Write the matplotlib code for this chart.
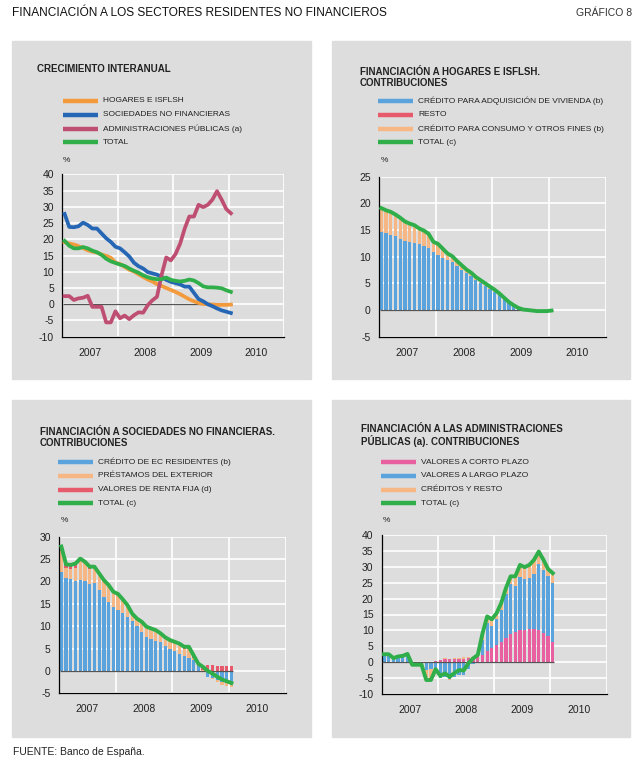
import numpy as np
import matplotlib
matplotlib.use('Agg')
import matplotlib.pyplot as plt
from matplotlib.lines import Line2D
from matplotlib.patches import Rectangle

plt.rcParams['axes.unicode_minus'] = False

W, H = 640, 761

# monthly data, Dec 2006 .. Dec 2009
n_months = 37
years = ['2007', '2008', '2009', '2010']

# growth rates (%), also the totals of the contribution panels
hogares_total = [19.1, 18.7, 18.4, 17.9, 17.3, 16.6, 16.2, 15.9, 15.3, 14.9, 14.3, 12.8,
                 12.4, 11.5, 10.6, 10.1, 9.2, 8.4, 7.6, 7.0, 6.2, 5.6, 5.0, 4.4,
                 3.8, 3.1, 2.3, 1.5, 0.9, 0.4, 0.1, 0.0, -0.1, -0.2, -0.2, -0.2, -0.1]
snf_total = [27.8, 23.8, 23.7, 24.0, 25.1, 24.4, 23.3, 23.3, 21.8, 20.3, 19.2, 17.7,
             17.2, 16.0, 14.7, 12.8, 11.7, 11.0, 9.9, 9.5, 9.1, 8.4, 7.5, 6.9,
             6.5, 6.1, 5.4, 5.4, 3.5, 1.6, 0.9, 0.0, -0.6, -1.3, -1.9, -2.3, -2.7]
aapp_total = [2.5, 2.5, 1.3, 1.8, 2.0, 2.6, -0.8, -0.8, -0.8, -5.6, -5.6, -2.2,
              -4.3, -3.5, -4.6, -3.4, -2.5, -2.6, -0.3, 1.2, 2.3, 9.0, 14.4, 13.5,
              15.4, 18.6, 23.3, 27.0, 27.0, 30.6, 29.9, 30.6, 32.2, 34.8, 32.2, 29.3, 28.0]
total = [19.5, 18.0, 17.2, 17.2, 17.6, 17.2, 16.5, 16.0, 15.2, 14.0, 13.2, 12.7,
         12.2, 11.8, 11.0, 10.3, 9.7, 8.9, 8.3, 7.9, 7.7, 7.7, 8.2, 7.5,
         7.2, 7.0, 7.2, 7.6, 7.3, 6.5, 5.5, 5.2, 5.2, 5.1, 4.9, 4.3, 3.8]

# hogares contributions
vivienda = [14.7, 14.4, 14.1, 13.8, 13.4, 12.9, 12.7, 12.6, 12.4, 12.1, 11.7, 10.8,
            10.4, 9.8, 9.4, 9.0, 8.2, 7.6, 6.9, 6.3, 5.6, 5.1, 4.6, 4.0,
            3.4, 2.8, 2.0, 1.3, 0.7, 0.3, 0.2, 0.1, 0.0, -0.1, -0.1, -0.1, 0.0]
resto = [0.0, 0.0, 0.0, 0.0, 0.0, 0.0, 0.0, 0.0, 0.0, 0.0, 0.0, 0.0,
         0.0, 0.0, 0.0, 0.0, 0.0, 0.0, 0.0, 0.0, 0.0, 0.0, 0.0, 0.0,
         0.0, 0.0, 0.0, 0.0, 0.0, 0.0, 0.0, 0.0, 0.0, 0.0, 0.0, 0.0, 0.0]
consumo = [4.4, 4.3, 4.3, 4.1, 3.9, 3.7, 3.5, 3.3, 2.9, 2.8, 2.6, 2.0,
           2.0, 1.7, 1.2, 1.1, 1.0, 0.8, 0.7, 0.7, 0.6, 0.5, 0.4, 0.4,
           0.4, 0.3, 0.3, 0.2, 0.2, 0.1, -0.1, -0.1, -0.1, -0.1, -0.1, -0.1, -0.1]

# sociedades no financieras contributions
credito_ec = [22.0, 20.7, 20.5, 20.0, 20.3, 20.0, 19.5, 19.6, 18.0, 16.5, 15.5, 14.2,
              13.7, 13.0, 12.0, 11.2, 10.0, 8.8, 7.5, 7.2, 6.8, 6.5, 5.5, 4.8,
              4.5, 3.8, 3.3, 3.0, 2.5, 1.0, -0.3, -1.3, -1.5, -2.1, -2.5, -2.7, -3.2]
prestamos_ext = [4.7, 2.2, 2.2, 3.0, 4.5, 4.1, 3.2, 3.4, 3.6, 3.6, 3.5, 3.4,
                 3.4, 2.9, 2.6, 1.5, 1.6, 2.1, 2.3, 2.1, 2.1, 1.7, 1.7, 1.8,
                 1.7, 1.9, 1.7, 1.9, 0.3, -0.2, 0.2, 0.3, -0.4, -0.3, -0.6, -0.6, -0.5]
renta_fija = [1.1, 0.9, 1.0, 1.0, 0.3, 0.3, 0.6, 0.3, 0.2, 0.2, 0.2, 0.1,
              0.1, 0.1, 0.1, 0.1, 0.1, 0.1, 0.1, 0.2, 0.2, 0.2, 0.3, 0.3,
              0.3, 0.4, 0.4, 0.5, 0.7, 0.8, 1.0, 1.0, 1.3, 1.1, 1.2, 1.0, 1.0]

# administraciones publicas contributions
corto_plazo = [-0.4, -0.4, -0.4, -0.4, -0.4, -0.4, -0.3, -0.3, -0.3, -0.4, -0.4, 0.5,
               0.8, 1.0, 0.9, 1.0, 1.0, 1.1, 1.2, 1.4, 1.8, 2.3, 3.4, 4.4,
               5.5, 6.5, 7.5, 8.9, 9.6, 10.0, 10.2, 10.5, 10.5, 10.2, 9.3, 8.1, 6.2]
largo_plazo = [2.2, 2.3, 1.4, 1.8, 2.0, 2.5, -0.3, -0.4, -0.4, -2.0, -1.8, -2.7,
               -4.9, -4.8, -5.3, -4.7, -3.9, -4.1, -2.0, -0.5, 0.3, 4.7, 9.0, 7.1,
               8.0, 10.0, 13.8, 15.6, 14.4, 16.8, 16.0, 16.0, 17.3, 20.8, 19.7, 18.9, 18.8]
creditos_resto = [0.7, 0.6, 0.3, 0.4, 0.4, 0.5, -0.2, -0.1, -0.1, -3.2, -3.4, 0.0,
                  -0.2, 0.3, -0.2, 0.3, 0.4, 0.4, 0.5, 0.3, 0.2, 2.0, 2.0, 2.0,
                  1.9, 2.1, 2.0, 2.5, 3.0, 3.8, 3.7, 4.1, 4.4, 3.8, 3.2, 2.3, 3.0]

PANEL = '#dddddd'
GREEN = '#2fae4a'
ORANGE_LINE = '#f39a3d'
BLUE_LINE = '#2566b5'
PINK_LINE = '#bf4f72'
BAR_BLUE = '#5ba3dc'
BAR_PEACH = '#f6b784'
BAR_RED = '#e65a6b'
BAR_PINK = '#e8609f'

NARROW = ['Liberation Sans Narrow', 'Liberation Sans', 'DejaVu Sans']
REG = ['Liberation Sans', 'DejaVu Sans']

x = 2007 + (np.arange(n_months) + 0.5) / 12


def fx(px):
    return px / W


def fy(py):
    return 1 - py / H


fig = plt.figure(figsize=(6.4, 7.61), dpi=100)
fig.patch.set_facecolor('white')

# gray panel backgrounds
for l, t, r, b in [(12, 41, 311, 379), (332, 41, 630, 379),
                   (12, 400, 311, 737), (332, 400, 630, 737)]:
    fig.add_artist(Rectangle((fx(l), fy(b)), fx(r - l), (b - t) / H,
                             transform=fig.transFigure, color=PANEL, zorder=-5))


def make_axes(l, t, r, b, ylim, step=5):
    ax = fig.add_axes([fx(l), fy(b), fx(r - l), (b - t) / H])
    ax.set_facecolor(PANEL)
    ax.set_xlim(2007, 2011)
    ax.set_ylim(*ylim)
    ax.set_yticks(np.arange(ylim[0], ylim[1] + 1, step))
    ax.set_xticks([2007, 2008, 2009, 2010, 2011])
    ax.set_xticklabels([])
    ax.set_xticks([2007.5, 2008.5, 2009.5, 2010.5], minor=True)
    ax.set_xticklabels(years, minor=True)
    ax.tick_params(which='both', length=0, colors='#222222')
    ax.tick_params(axis='x', which='minor', pad=8)
    ax.tick_params(axis='y', pad=6)
    ax.grid(True, which='major', color='white', lw=1.2)
    ax.set_axisbelow(True)
    for s in ['top', 'right']:
        ax.spines[s].set_visible(False)
    for s in ['left', 'bottom']:
        ax.spines[s].set_color('black')
        ax.spines[s].set_linewidth(0.9)
    for lab in ax.get_yticklabels() + ax.get_xticklabels(minor=True):
        lab.set_family(REG)
        lab.set_fontsize(7.5)
    ax.hlines(0, x[0] - 0.03, x[-1] + 0.02, color='#555555', lw=0.9, zorder=3)
    return ax


def stacked(ax, series, colors):
    pos = np.zeros(n_months)
    neg = np.zeros(n_months)
    for vals, c in zip(series, colors):
        v = np.array(vals)
        base = np.where(v >= 0, pos, neg)
        ax.bar(x, v, width=0.058, bottom=base, color=c, lw=0, zorder=2)
        pos += np.clip(v, 0, None)
        neg += np.clip(v, None, 0)


def legend(x0, y0, items, dy=13.8):
    for k, (label, color) in enumerate(items):
        yy = fy(y0 + k * dy)
        fig.add_artist(Line2D([fx(x0), fx(x0 + 35)], [yy, yy], color=color,
                              lw=3.2, solid_capstyle='butt', transform=fig.transFigure))
        fig.text(fx(x0 + 40), yy, label, va='center', fontsize=6,
                 family=NARROW, color='#222222')


def title(x0, y0, text):
    fig.text(fx(x0), fy(y0), text, va='center', fontsize=7, fontweight='bold',
             family=NARROW, color='#222222', linespacing=1.15)


# header and footer
fig.text(fx(12), fy(13), 'FINANCIACIÓN A LOS SECTORES RESIDENTES NO FINANCIEROS',
         va='center', fontsize=8.6, family=NARROW, color='#111111')
fig.text(fx(632), fy(13), 'GRÁFICO 8', va='center', ha='right', fontsize=7.5,
         family=NARROW, color='#333333')
fig.text(fx(13), fy(752), 'FUENTE: Banco de España.', va='center', fontsize=7.5,
         family=REG, color='#222222')

# panel 1: crecimiento interanual
title(37, 69, 'CRECIMIENTO INTERANUAL')
legend(63, 101, [('HOGARES E ISFLSH', ORANGE_LINE),
                 ('SOCIEDADES NO FINANCIERAS', BLUE_LINE),
                 ('ADMINISTRACIONES PÚBLICAS (a)', PINK_LINE),
                 ('TOTAL', GREEN)])
fig.text(fx(63), fy(160), '%', va='center', fontsize=6, family=REG, color='#222222')
ax1 = make_axes(62.3, 174.3, 284, 336.7, (-10, 40))
ax1.plot(x, hogares_total, color=ORANGE_LINE, lw=2.7, zorder=4)
ax1.plot(x, snf_total, color=BLUE_LINE, lw=2.7, zorder=4)
ax1.plot(x, aapp_total, color=PINK_LINE, lw=2.7, zorder=4)
ax1.plot(x, total, color=GREEN, lw=2.7, zorder=5)

# panel 2: hogares
title(360, 77.5, 'FINANCIACIÓN A HOGARES E ISFLSH.\nCONTRIBUCIONES')
legend(378, 101, [('CRÉDITO PARA ADQUISICIÓN DE VIVIENDA (b)', BAR_BLUE),
                  ('RESTO', BAR_RED),
                  ('CRÉDITO PARA CONSUMO Y OTROS FINES (b)', BAR_PEACH),
                  ('TOTAL (c)', GREEN)])
fig.text(fx(381), fy(160), '%', va='center', fontsize=6, family=REG, color='#222222')
ax2 = make_axes(379, 176.7, 605.7, 336.7, (-5, 25))
stacked(ax2, [vivienda, resto, consumo], [BAR_BLUE, BAR_RED, BAR_PEACH])
ax2.plot(x, hogares_total, color=GREEN, lw=2.8, zorder=5)

# panel 3: sociedades no financieras
title(40, 437.5, 'FINANCIACIÓN A SOCIEDADES NO FINANCIERAS.\nCONTRIBUCIONES')
legend(58, 462, [('CRÉDITO DE EC RESIDENTES (b)', BAR_BLUE),
                 ('PRÉSTAMOS DEL EXTERIOR', BAR_PEACH),
                 ('VALORES DE RENTA FIJA (d)', BAR_RED),
                 ('TOTAL (c)', GREEN)])
fig.text(fx(61), fy(520), '%', va='center', fontsize=6, family=REG, color='#222222')
ax3 = make_axes(59, 536.7, 285.7, 693.3, (-5, 30))
stacked(ax3, [credito_ec, prestamos_ext, renta_fija], [BAR_BLUE, BAR_PEACH, BAR_RED])
ax3.plot(x, snf_total, color=GREEN, lw=2.8, zorder=5)

# panel 4: administraciones publicas
title(361, 435.5, 'FINANCIACIÓN A LAS ADMINISTRACIONES\nPÚBLICAS (a). CONTRIBUCIONES')
legend(381, 462, [('VALORES A CORTO PLAZO', BAR_PINK),
                  ('VALORES A LARGO PLAZO', BAR_BLUE),
                  ('CRÉDITOS Y RESTO', BAR_PEACH),
                  ('TOTAL (c)', GREEN)])
fig.text(fx(383), fy(520), '%', va='center', fontsize=6, family=REG, color='#222222')
ax4 = make_axes(381.7, 535, 606.7, 694, (-10, 40))
stacked(ax4, [corto_plazo, largo_plazo, creditos_resto], [BAR_PINK, BAR_BLUE, BAR_PEACH])
ax4.plot(x, aapp_total, color=GREEN, lw=2.8, zorder=5)

fig.savefig('out.png', dpi=100)
